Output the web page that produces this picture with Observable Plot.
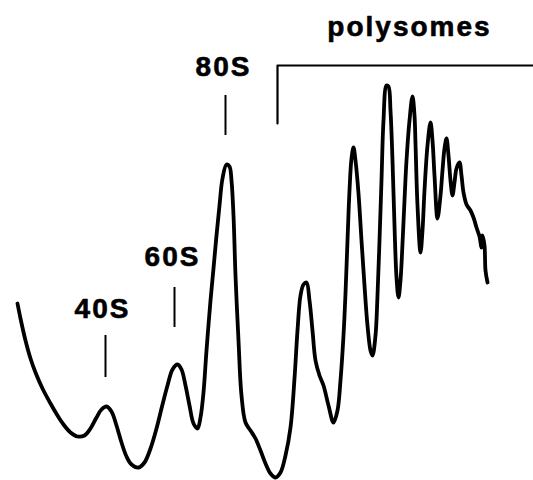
<!DOCTYPE html>
<html>
<head>
<meta charset="utf-8">
<script src="https://cdn.jsdelivr.net/npm/d3@7"></script>
<script src="https://cdn.jsdelivr.net/npm/@observablehq/plot@0.6"></script>
<style>
  html, body { margin: 0; padding: 0; background: #fff; }
</style>
</head>
<body>
<div id="chart"></div>
<script>
// Sedimentation position (left = top of gradient) and absorbance (arbitrary units)
const position = [17,20,25,30,35,42,50,57,63,70,77,84,90,96,101,106,111,116,121,126,131,138,144,150,156,162,167,172,177,181,185,189,193,197,200,203,206,210,213,216,219,222,226,229,231,233,235,238,241,245,250,255,260,265,270,275,280,285,290,294,297,300,303,306,309,312,315,319,323,328,333,337,340,343,345,347,349,351,353,355,358,361,364,367,370,372,375,377,379,381,383,386,388,390,392,394,396,398,400,402,404,406,409,412,414,415,417,420,422,424,427,430,432,434,437,440,442,444,446,448,450,452,454,456,459,461,463,466,470,473,476,479,481,482,484,485,487];
const absorbance = [177,162,140,122,108,92,77,65,56,48,44,45,52,63,71,74,69,55,38,24,16,13,18,32,52,76,95,111,116,111,95,75,57,52,63,88,130,180,212,245,275,302,316,314,300,265,205,140,85,58,50,42,30,17,7,3,8,25,53,102,150,185,196,198,180,150,120,105,95,75,58,70,100,145,187,240,290,322,333,320,287,240,195,155,130,125,145,185,240,300,360,395,394,370,320,255,203,183,200,237,280,320,360,384,365,337,275,228,250,290,335,358,340,305,262,285,310,332,342,325,300,285,298,312,318,305,288,276,270,263,253,244,233,245,235,210,198];

// Peak labels and their marker ticks
const labels = ["40S", "60S", "80S"];
const labelPos = [102, 172, 223];
const labelAbs = [163, 215, 405];
const tickPos = [105, 174, 225];
const tickTop = [145, 193, 385];
const tickBottom = [103, 153, 345];

// Polysome bracket
const polyLabel = ["polysomes"];
const polyLabelPos = [409];
const polyLabelAbs = [445];
const bracketPos = [277, 277, 533];
const bracketAbs = [357, 415, 415];

const trace = position.map((x, i) => ({x, a: absorbance[i]}));
const peaks = labels.map((t, i) => ({t, x: labelPos[i], a: labelAbs[i], tx: tickPos[i], a1: tickTop[i], a2: tickBottom[i]}));
const poly = polyLabel.map((t, i) => ({t, x: polyLabelPos[i], a: polyLabelAbs[i]}));
const bracket = bracketPos.map((x, i) => ({x, a: bracketAbs[i]}));

const textOpts = {x: "x", y: "a", text: "t", fontSize: 28, fontWeight: "bold", fill: "#000", stroke: "#000", strokeWidth: 0.6, lineAnchor: "bottom"};

const chart = Plot.plot({
  width: 533,
  height: 480,
  margin: 0,
  x: {domain: [0, 533], axis: null},
  y: {domain: [0, 480], axis: null},
  style: {background: "#fff", fontFamily: "'Liberation Sans', Arial, Helvetica, sans-serif", letterSpacing: "2px"},
  marks: [
    Plot.line(trace, {x: "x", y: "a", stroke: "#000", strokeWidth: 3.8, curve: "catmull-rom", strokeLinejoin: "round", strokeLinecap: "round"}),
    Plot.ruleX(peaks, {x: "tx", y1: "a1", y2: "a2", stroke: "#000", strokeWidth: 2}),
    Plot.line(bracket, {x: "x", y: "a", stroke: "#000", strokeWidth: 2.2}),
    Plot.text(peaks, textOpts),
    Plot.text(poly, textOpts)
  ]
});
document.getElementById("chart").appendChild(chart);
</script>
</body>
</html>
